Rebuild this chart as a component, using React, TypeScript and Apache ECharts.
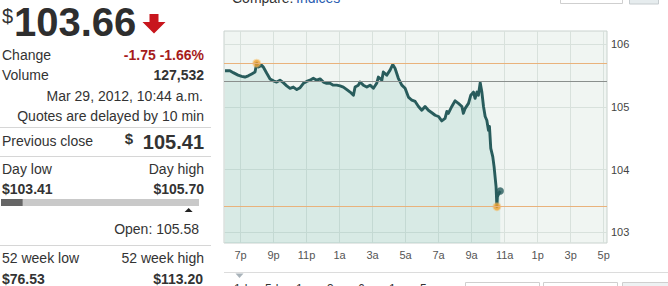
import React, { useEffect, useRef } from "react";
import * as echarts from "echarts";

// ---- data ----
// hours since 6:00 p.m. of the previous day
const times = [
  0.06, 0.36, 0.56, 0.85, 1.07, 1.27, 1.47, 1.68, 1.88, 1.98,
  2.08, 2.28, 2.38, 2.59, 2.79, 2.99, 3.19, 3.39, 3.59, 3.8,
  4.0, 4.2, 4.41, 4.61, 4.81, 5.01, 5.21, 5.41, 5.62, 5.82,
  6.02, 6.22, 6.42, 6.62, 6.83, 7.03, 7.23, 7.44, 7.64, 7.84,
  7.94, 8.14, 8.24, 8.44, 8.65, 8.85, 9.05, 9.25, 9.35, 9.56,
  9.65, 9.86, 10.06, 10.22, 10.36, 10.56, 10.77, 10.97, 11.17, 11.38,
  11.58, 11.78, 11.98, 12.18, 12.38, 12.59, 12.79, 12.99, 13.19, 13.39,
  13.5, 13.59, 13.8, 14.0, 14.2, 14.41, 14.5, 14.61, 14.81, 14.95,
  15.11, 15.21, 15.32, 15.41, 15.52, 15.62, 15.72, 15.82, 15.92, 16.02,
  16.08, 16.16, 16.28, 16.36, 16.48, 16.53, 16.56, 16.65, 16.73,
];
const prices = [
  105.58, 105.58, 105.55, 105.51, 105.49, 105.48, 105.5, 105.53, 105.56, 105.7,
  105.64, 105.67, 105.64, 105.54, 105.45, 105.42, 105.4, 105.43, 105.39, 105.34,
  105.3, 105.32, 105.28, 105.31, 105.38, 105.41, 105.43, 105.46, 105.43, 105.45,
  105.4, 105.38, 105.38, 105.35, 105.35, 105.34, 105.32, 105.28, 105.24, 105.19,
  105.32, 105.35, 105.4, 105.35, 105.32, 105.35, 105.3, 105.38, 105.48, 105.43,
  105.56, 105.51, 105.59, 105.68, 105.62, 105.46, 105.35, 105.3, 105.16, 105.11,
  105.09, 105.01, 104.95, 105.01, 104.95, 104.91, 104.87, 104.85, 104.78, 104.82,
  104.93, 104.9, 105.01, 105.1, 105.06, 105.01, 104.9, 104.98, 105.06, 105.19,
  105.24, 105.14, 105.24, 105.19, 105.39, 105.24, 105.01, 104.85, 104.79, 104.63,
  104.69, 104.34, 104.21, 104.05, 103.73, 103.41, 103.57, 103.62, 103.66,
];
const xTickHours = [1, 3, 5, 7, 9, 11, 13, 15, 17, 19, 21, 23];
const xTickLabels = ["7p", "9p", "11p", "1a", "3a", "5a", "7a", "9a", "11a", "1p", "3p", "5p"];
const yTicks = [103, 104, 105, 106];

const lastPrice = 103.66;
const prevClose = 105.41;
const openPrice = 105.58;
const dayLow = 103.41;
const dayHigh = 105.7;
const highTime = 1.98;
const lowTime = 16.53;
const lastTime = 16.73;
const changeText = "-1.75 -1.66%";
const volumeText = "127,532";
const dateText = "Mar 29, 2012, 10:44 a.m.";
const weekLow = "$76.53";
const weekHigh = "$113.20";
const rangeTabs = ["1d", "5d", "1m", "3m", "6m", "1y", "5y"];

const FONT = 'Arial, "Liberation Sans", sans-serif';

function txt(x: number, y: number, text: string, o: any = {}) {
  return {
    type: "text",
    x,
    y,
    silent: true,
    style: {
      text,
      fill: o.fill || "#333",
      fontSize: o.size || 14,
      fontWeight: o.bold ? "bold" : "normal",
      fontFamily: FONT,
      textAlign: o.align || "left",
      textVerticalAlign: o.va || "middle",
    },
  };
}

function line(x1: number, y1: number, x2: number, y2: number, color: string) {
  return {
    type: "line",
    silent: true,
    shape: { x1, y1, x2, y2 },
    style: { stroke: color, lineWidth: 1 },
  };
}

export default function App() {
  const ref = useRef<HTMLDivElement>(null);
  useEffect(() => {
    if (!ref.current) return;
    const chart = echarts.init(ref.current, null, { renderer: "svg" });

    const barLeft = 1;
    const barWidth = 198;
    const frac = (v: number) => (v - dayLow) / (dayHigh - dayLow);
    const curX = barLeft + frac(lastPrice) * barWidth;
    const openX = barLeft + frac(openPrice) * barWidth;

    const graphic: any[] = [
      // big price
      txt(2, 16, "$", { size: 20, va: "middle" }),
      txt(14, 22, lastPrice.toFixed(2), { size: 40, bold: true, fill: "#2e2e2e" }),
      {
        type: "polygon",
        silent: true,
        shape: {
          points: [
            [149.5, 14], [158.5, 14], [158.5, 22], [165.5, 22], [154, 33.5], [142.5, 22], [149.5, 22],
          ],
        },
        style: { fill: "#c8161d" },
      },
      txt(2, 55, "Change"),
      txt(204, 55, changeText, { bold: true, fill: "#a61b1b", align: "right" }),
      txt(2, 75, "Volume"),
      txt(204, 75, volumeText, { bold: true, align: "right" }),
      txt(203, 96, dateText, { align: "right" }),
      txt(204, 116, "Quotes are delayed by 10 min", { align: "right" }),
      line(0, 127.5, 211, 127.5, "#d6d6d6"),
      txt(2, 141, "Previous close"),
      txt(133, 138, "$", { bold: true, size: 15, align: "right" }),
      txt(204, 142, prevClose.toFixed(2), { bold: true, size: 20, align: "right" }),
      line(0, 156.5, 211, 156.5, "#d6d6d6"),
      txt(2, 169, "Day low"),
      txt(204, 169, "Day high", { align: "right" }),
      txt(2, 189, "$" + dayLow.toFixed(2), { bold: true }),
      txt(204, 189, "$" + dayHigh.toFixed(2), { bold: true, align: "right" }),
      { type: "rect", silent: true, shape: { x: barLeft, y: 199, width: barWidth, height: 7 }, style: { fill: "#c9c9c9" } },
      { type: "rect", silent: true, shape: { x: barLeft, y: 199, width: curX - barLeft, height: 7 }, style: { fill: "#666" } },
      {
        type: "polygon",
        silent: true,
        shape: { points: [[openX - 4, 212], [openX + 4, 212], [openX, 208]] },
        style: { fill: "#222" },
      },
      txt(199, 229, "Open: " + openPrice.toFixed(2), { align: "right" }),
      line(0, 245.5, 211, 245.5, "#d6d6d6"),
      txt(2, 258, "52 week low"),
      txt(204, 258, "52 week high", { align: "right" }),
      txt(2, 279, weekLow, { bold: true }),
      txt(203, 279, weekHigh, { bold: true, align: "right" }),

      // chart surroundings
      txt(232, -2, "Compare:", {}),
      txt(296, -2, "Indices", { fill: "#2a5db0" }),
      { type: "rect", silent: true, shape: { x: 560.5, y: -5, width: 62, height: 8.5 }, style: { fill: "#fff", stroke: "#cfcfcf", lineWidth: 1 } },
      { type: "rect", silent: true, shape: { x: 629.5, y: -5, width: 29, height: 9 }, style: { fill: "#e6ecee", stroke: "#c6cccf", lineWidth: 1 } },
      line(224, 272.5, 668, 272.5, "#dcdcdc"),
      {
        type: "polygon",
        silent: true,
        shape: { points: [[235.5, 273.5], [243.5, 273.5], [239.5, 278]] },
        style: { fill: "#a9b3ba" },
      },
      { type: "rect", silent: true, shape: { x: 465.5, y: 282.5, width: 74, height: 10 }, style: { fill: "#fff", stroke: "#cfcfcf", lineWidth: 1 } },
      { type: "rect", silent: true, shape: { x: 543.5, y: 282.5, width: 74, height: 10 }, style: { fill: "#fff", stroke: "#cfcfcf", lineWidth: 1 } },
      { type: "rect", silent: true, shape: { x: 622.5, y: 282.5, width: 60, height: 10 }, style: { fill: "#eef2f3", stroke: "#cfcfcf", lineWidth: 1 } },
    ];
    rangeTabs.forEach((t, i) => {
      graphic.push(txt(234 + i * 31, 283, t, { size: 12, va: "top" }));
    });

    chart.setOption({
      animation: false,
      backgroundColor: "#fff",
      grid: {
        left: 224,
        top: 31,
        width: 383,
        height: 212,
        show: true,
        backgroundColor: "#f0f5f2",
        borderColor: "#c9d2ce",
        borderWidth: 1,
      },
      xAxis: {
        type: "value",
        min: 0,
        max: 23.2,
        axisLine: { show: false },
        axisTick: { show: false, customValues: xTickHours },
        axisLabel: {
          customValues: xTickHours,
          margin: 6,
          color: "#555",
          fontSize: 11,
          fontFamily: FONT,
          formatter: (v: number) => {
            const i = xTickHours.indexOf(v);
            return i >= 0 ? xTickLabels[i] : "";
          },
        },
        splitLine: { show: true, lineStyle: { color: "#d8e1dc", width: 1 } },
      },
      yAxis: {
        type: "value",
        position: "right",
        min: 102.83,
        max: 106.215,
        axisLine: { show: false },
        axisTick: { show: false, customValues: yTicks },
        axisLabel: {
          customValues: yTicks,
          margin: 4,
          color: "#444",
          fontSize: 11,
          fontFamily: FONT,
          formatter: (v: number) => String(v),
        },
        splitLine: { show: true, lineStyle: { color: "#d8e1dc", width: 1 } },
      },
      series: [
        {
          type: "line",
          data: times.map((t, i) => [t, prices[i]]),
          showSymbol: false,
          symbol: "none",
          silent: true,
          lineStyle: { color: "#285c5c", width: 2.9, join: "round" },
          areaStyle: { color: "rgba(110,185,175,0.27)" },
          markLine: {
            silent: true,
            symbol: ["none", "none"],
            label: { show: false },
            data: [
              { yAxis: dayHigh, lineStyle: { color: "#e9b27c", type: "solid", width: 1 } },
              { yAxis: dayLow, lineStyle: { color: "#e9b27c", type: "solid", width: 1 } },
              { yAxis: prevClose, lineStyle: { color: "#8a8f8d", type: "solid", width: 1 } },
            ],
          },
          z: 2,
        },
        {
          type: "scatter",
          silent: true,
          symbolSize: 7,
          data: [[highTime, dayHigh], [lowTime, dayLow]],
          itemStyle: { color: "#f0a12e", borderColor: "rgba(245,185,90,0.55)", borderWidth: 2 },
          z: 4,
        },
        {
          type: "scatter",
          silent: true,
          symbolSize: 7.5,
          data: [[lastTime, lastPrice]],
          itemStyle: { color: "#285c5c" },
          z: 4,
        },
      ],
      graphic,
    });
    return () => chart.dispose();
  }, []);
  return (
    <div
      ref={ref}
      style={{ position: "fixed", left: 0, top: 0, width: 668, height: 286 }}
    />
  );
}
